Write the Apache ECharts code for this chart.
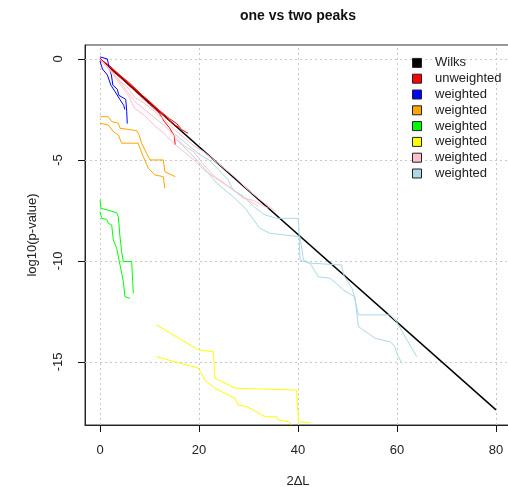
<!DOCTYPE html>
<html>
<head>
<meta charset="utf-8">
<script src="https://cdn.jsdelivr.net/npm/echarts@6/dist/echarts.min.js"></script>
<style>
  html, body { margin: 0; padding: 0; background: #fff; }
  #chart { width: 508px; height: 487px; }
</style>
</head>
<body>
<div id="chart"></div>
<script>
// Tick positions
const xTicks = [0, 20, 40, 60, 80];
const yTicks = [0, -5, -10, -15];

// Reference curve (asymptotic chi-square)
const wilks = [[0, 0], [80, -17.37]];

// Unweighted runs
const red1 = [[0, 0], [2, -0.35], [4, -0.8], [6, -1.25], [8, -1.7], [10, -2.1], [12, -2.55], [14, -2.95], [15.5, -3.2], [16.5, -3.5], [17.8, -3.68]];
const red2 = [[0, 0.05], [1, -0.25], [2, -0.5], [4, -0.9], [6, -1.35], [8, -1.8], [10, -2.25], [12, -2.69], [13, -3.1], [14, -3.4], [15, -3.8], [15.2, -4.26]];
const red3 = [[0, -0.05], [3, -0.6], [6, -1.2], [9, -1.9], [12, -2.6], [13.5, -2.95], [15, -3.25], [16, -3.4]];

// Weighted runs
const blue1 = [[0, 0.1], [1.5, 0], [1.8, -0.4], [2.3, -0.8], [2.6, -1.3], [3.5, -1.5], [3.8, -1.8], [5.2, -2.0], [5.4, -2.6], [5.5, -3.2]];
const blue2 = [[0, -0.1], [0.5, -0.5], [1.5, -0.8], [2.2, -1.3], [3, -1.6], [4, -2.0], [4.8, -2.3], [5.0, -2.5]];

const orange1 = [[0, -2.86], [1.68, -2.86], [2.36, -3.1], [3.7, -3.18], [4.04, -3.43], [7.4, -3.55], [7.9, -3.76], [8.4, -4.17], [9.4, -4.67], [10.1, -5.0], [12.8, -5.0], [13.1, -5.58], [15.2, -5.83]];
const orange2 = [[0, -3.18], [1.68, -3.27], [2.69, -3.6], [3.7, -3.76], [4.38, -4.17], [7.7, -4.17], [8.75, -4.84], [9.76, -5.41], [11.1, -5.74], [12.8, -5.83], [13.1, -6.4]];

const green1 = [[0, -6.98], [0.2, -7.39], [3.37, -7.61], [3.7, -7.81], [4.04, -8.8], [4.38, -9.54], [4.71, -10.03], [6.4, -10.03], [6.73, -11.6]];
const green2 = [[0, -7.56], [0.34, -7.89], [1.35, -7.94], [1.68, -8.13], [2.36, -8.22], [2.69, -8.96], [3.37, -9.37], [3.7, -9.79], [4.38, -10.6], [4.71, -11.03], [5.05, -11.77], [6.06, -11.85]];

const yellow1 = [[11.45, -13.17], [19.9, -14.4], [22.9, -14.49], [23.2, -15.8], [27.3, -16.3], [39.7, -16.39], [40.1, -17.96], [42.4, -18.0]];
const yellow2 = [[11.45, -14.74], [19.9, -15.31], [21.2, -15.89], [23.2, -16.3], [27.3, -16.8], [27.9, -17.13], [29.6, -17.21], [31, -17.38], [33.3, -17.71], [35.7, -17.71], [36, -17.87], [38, -17.95], [38.7, -18.1]];

const pink1 = [[0, 0], [2, -0.5], [4, -1.1], [5.7, -1.45], [7, -1.9], [9, -2.2], [11, -2.6], [13, -3.0], [15, -3.5], [17, -3.9], [19, -4.3], [21, -4.6], [24, -5.2], [27, -5.8], [30, -6.5], [33, -7.1], [35.5, -7.55]];
const pink2 = [[0, 0], [3, -0.8], [5.5, -1.6], [7, -2.1], [9, -2.5], [11, -2.9], [13, -3.3], [15, -3.8], [17, -4.3], [19, -4.6], [20.5, -5.1], [23, -5.8], [26, -6.3], [29, -6.9], [31, -7.0], [34, -7.4]];
const pink3 = [[0, 0], [3, -0.9], [5.7, -1.8], [7, -2.45], [9, -2.8], [11, -3.3], [13, -3.7], [15, -4.2], [17, -4.6], [19, -5.0], [21, -5.5], [24, -6.0], [27, -6.5], [30, -7.0], [32, -7.3]];

const lightblue1 = [[15, -3.7], [17, -4.1], [20.2, -4.75], [22, -5.0], [24, -5.5], [25.9, -5.99], [26.9, -6.49], [29, -6.8], [31, -7.3], [33.3, -7.72], [35.7, -7.89], [40.1, -7.89], [40.4, -9.95], [42, -10.1], [48.8, -10.2], [49.2, -10.69], [51, -11.4], [52.2, -12.67], [58.6, -12.67], [59.9, -13.0], [62, -13.9], [64, -14.74]];
const lightblue2 = [[15, -3.9], [18, -4.6], [20.2, -5.17], [23.6, -6.15], [26.9, -6.82], [29.3, -7.39], [32.3, -8.38], [34.3, -8.63], [40.4, -8.8], [41.1, -9.95], [42.4, -10.1], [44.1, -10.78], [46.5, -10.86], [48.1, -11.19], [49.5, -11.5], [51.5, -11.77], [52.2, -13.25], [55.6, -13.83], [58.6, -14.0], [59.5, -14.2], [60, -14.6], [61, -15.07]];

const legendNames = ['Wilks', 'unweighted', 'weighted 1', 'weighted 2', 'weighted 3', 'weighted 4', 'weighted 5', 'weighted 6'];
const legendColors = ['#000000', '#ff0000', '#0000ff', '#ffa500', '#00ff00', '#ffff00', '#ffc0cb', '#add8e6'];

const FONT = '"Liberation Sans", Arial, sans-serif';
const X_MIN = -3.03, X_MAX = 83.03, Y_MIN = -18.12, Y_MAX = 0.69;

function line(name, color, data, width) {
  return {
    name: name,
    type: 'line',
    data: data,
    symbol: 'none',
    color: color,
    lineStyle: { color: color, width: width || 1 },
    animation: false,
    silent: true
  };
}

const gridLines = xTicks.map(v => ({ xAxis: v })).concat(yTicks.map(v => ({ yAxis: v })));

const wilksSeries = line('Wilks', legendColors[0], wilks, 1.5);
wilksSeries.markLine = {
  z: 1,
  silent: true,
  symbol: ['none', 'none'],
  label: { show: false },
  lineStyle: { color: '#c8c8c8', type: [2, 3], width: 1 },
  data: gridLines,
  animation: false
};

const axisLineStyle = { show: true, onZero: false, lineStyle: { color: '#222', width: 1 } };
const tickStyle = { show: true, length: 7, lineStyle: { color: '#111', width: 1 } };

const chart = echarts.init(document.getElementById('chart'), null, { renderer: 'canvas' });
chart.setOption({
  backgroundColor: '#ffffff',
  animation: false,
  textStyle: { fontFamily: FONT },
  title: {
    text: 'one vs two peaks',
    left: 240,
    top: 9,
    padding: 0,
    textStyle: { fontFamily: FONT, fontSize: 14, fontWeight: 'bold', color: '#111' }
  },
  grid: {
    left: 85, top: 45, width: 426, height: 380,
    outerBoundsMode: 'none',
    containLabel: false,
    show: true, borderColor: '#333', borderWidth: 1, backgroundColor: 'transparent'
  },
  legend: {
    orient: 'vertical',
    left: 412,
    top: 55,
    padding: 0,
    itemGap: 0,
    itemWidth: 26,
    itemHeight: 9,
    icon: 'path://M0,0H10V10H0Z',
    symbolKeepAspect: true,
    itemStyle: { borderColor: '#222', borderWidth: 1 },
    textStyle: { fontFamily: FONT, fontSize: 13, color: '#222', lineHeight: 15.8 },
    formatter: n => n.replace(/ \d+$/, ''),
    data: legendNames,
    selectedMode: false
  },
  xAxis: {
    type: 'value',
    min: X_MIN,
    max: X_MAX,
    name: '2ΔL',
    nameLocation: 'middle',
    nameGap: 50,
    nameTextStyle: { fontFamily: FONT, fontSize: 13, color: '#222' },
    axisLine: axisLineStyle,
    splitLine: { show: false },
    axisTick: Object.assign({ customValues: xTicks }, tickStyle),
    axisLabel: { fontFamily: FONT, fontSize: 13, color: '#222', margin: 19, customValues: xTicks }
  },
  yAxis: {
    type: 'value',
    min: Y_MIN,
    max: Y_MAX,
    name: 'log10(p-value)',
    nameLocation: 'middle',
    nameGap: 46,
    nameTextStyle: { fontFamily: FONT, fontSize: 13, color: '#222' },
    axisLine: axisLineStyle,
    splitLine: { show: false },
    axisTick: Object.assign({ customValues: yTicks }, tickStyle),
    axisLabel: { fontFamily: FONT, fontSize: 13, color: '#222', margin: 20, rotate: 90, customValues: yTicks }
  },
  series: [
    wilksSeries,
    line('unweighted', legendColors[1], red1),
    line('unweighted', legendColors[1], red2),
    line('unweighted', legendColors[1], red3),
    line('weighted 1', legendColors[2], blue1),
    line('weighted 1', legendColors[2], blue2),
    line('weighted 2', legendColors[3], orange1),
    line('weighted 2', legendColors[3], orange2),
    line('weighted 3', legendColors[4], green1),
    line('weighted 3', legendColors[4], green2),
    line('weighted 4', legendColors[5], yellow1),
    line('weighted 4', legendColors[5], yellow2),
    line('weighted 5', legendColors[6], pink1),
    line('weighted 5', legendColors[6], pink2),
    line('weighted 5', legendColors[6], pink3),
    line('weighted 6', legendColors[7], lightblue1),
    line('weighted 6', legendColors[7], lightblue2)
  ]
});
</script>
</body>
</html>
